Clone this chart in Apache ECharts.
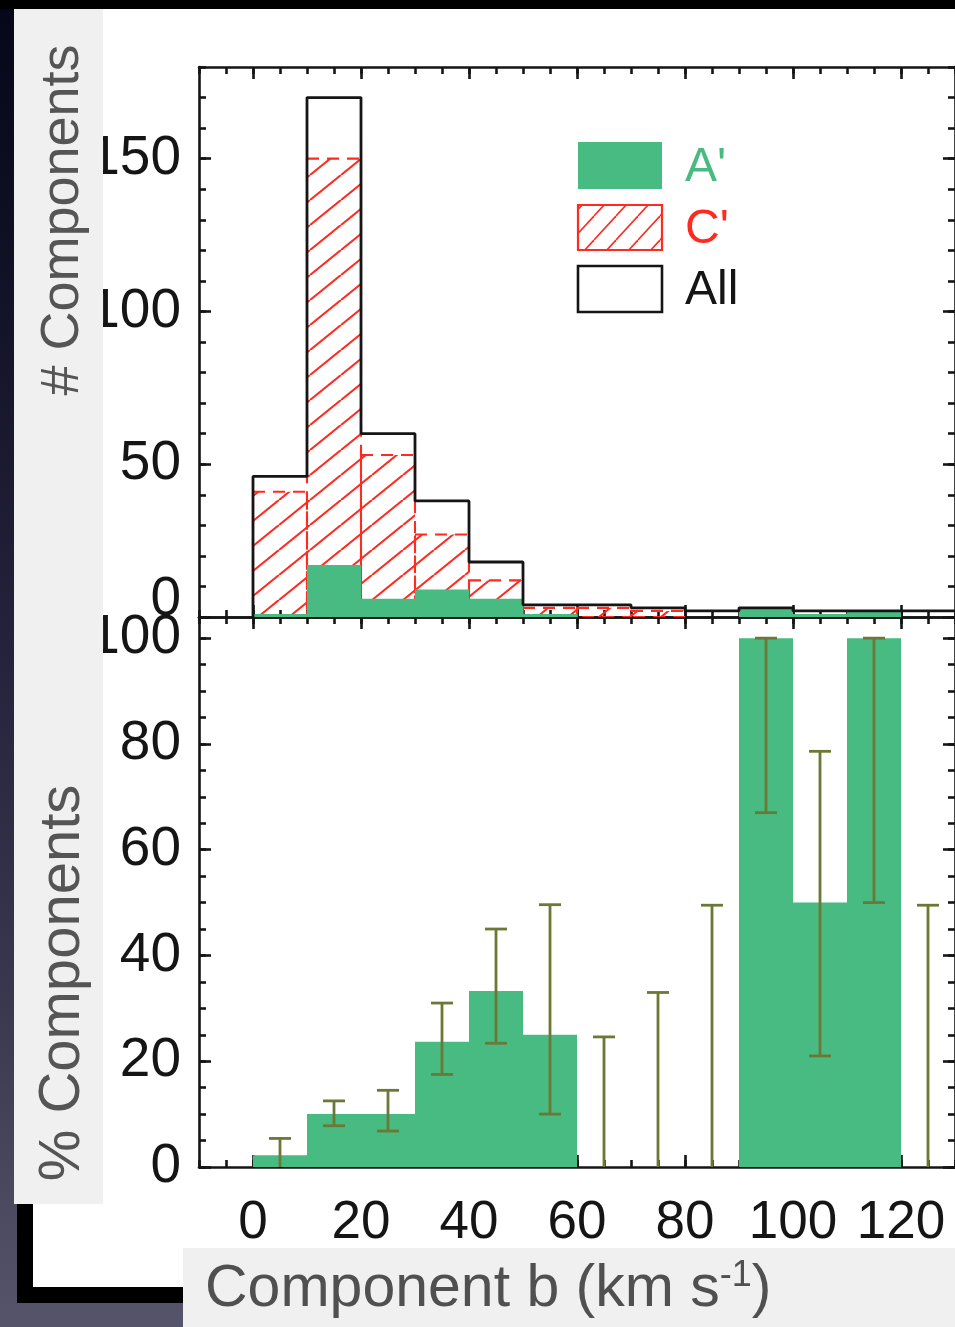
<!DOCTYPE html>
<html><head><meta charset="utf-8">
<script src="https://cdn.jsdelivr.net/npm/echarts@6/dist/echarts.min.js"></script>
<style>
html,body{margin:0;padding:0;width:955px;height:1327px;overflow:hidden;}
body{position:relative;background:linear-gradient(to bottom,#000 0px,#000 9px,#07071a 10px,#121228 300px,#24233b 650px,#39384f 1000px,#55546a 1327px);}
#paper{position:absolute;left:33px;top:9px;width:922px;height:1278px;background:#fff;}
#frameV{position:absolute;left:17px;top:9px;width:16px;height:1294px;background:#000;}
#frameH{position:absolute;left:17px;top:1287px;width:938px;height:16px;background:#000;}
#chart{position:absolute;left:0;top:0;width:955px;height:1327px;}
</style></head><body>
<div id="paper"></div><div id="frameV"></div><div id="frameH"></div>
<div id="chart"></div>
<script>
// ---- data (bins of 10 km/s) ----
const binStarts = [0, 10, 20, 30, 40, 50, 60, 70, 80, 90, 100, 110, 120];
const BIN = 10;
const countAll = [46, 170, 60, 38, 18, 4, 4, 3, 2, 3, 2, 2, 2];
const countC   = [41, 150, 53, 27, 12, 3, 3, 2, 0, 0, 0, 0, 0];
const countA   = [1, 17, 6, 9, 6, 1, 0, 0, 0, 3, 1, 2, 0];
const pctA     = [2.2, 10, 10, 23.7, 33.3, 25, 0, 0, 0, 100, 50, 100, 0];
const errLo    = [0, 7.8, 6.8, 17.5, 23.4, 10, 0, 0, 0, 67, 21, 50, 0];
const errHi    = [5.4, 12.5, 14.5, 31, 45, 49.6, 24.6, 33, 49.5, 100, 78.6, 100, 49.5];
const xTicks = [0, 20, 40, 60, 80, 100, 120];
const yTicksCount = [0, 50, 100, 150];
const yTicksPct = [0, 20, 40, 60, 80, 100];
const legendNames = ["A'", "C'", "All"];

// ---- styles ----
const GREEN = '#47bb82', RED = '#ff2a20', INK = '#151515', ERR = '#6c7936';
const FONT = 'Liberation Sans, Arial, Helvetica, sans-serif';

function makeHatch(w, h, lw) {
  const c = document.createElement('canvas');
  c.width = w; c.height = h;
  const g = c.getContext('2d');
  g.strokeStyle = RED; g.lineWidth = lw;
  for (const k of [-1, 0, 1]) {
    g.beginPath(); g.moveTo(k * w, h); g.lineTo((k + 1) * w, 0); g.stroke();
  }
  return c;
}
const hatch = { image: makeHatch(31, 25, 2.1), repeat: 'repeat' };
const hatchLegend = { image: makeHatch(22, 24, 1.6), repeat: 'repeat' };

const hist = vals => binStarts.map((s, i) => [s, s + BIN, vals[i]]);
function barRender(styleFn) {
  return function (params, api) {
    const v = api.value(2);
    if (!(v > 0)) return null;
    const a = api.coord([api.value(0), v]);
    const b = api.coord([api.value(1), 0]);
    return { type: 'rect', shape: { x: a[0], y: a[1], width: b[0] - a[0], height: b[1] - a[1] }, style: styleFn() };
  };
}
function errRender(params, api) {
  const x = api.value(0), lo = api.value(1), hi = api.value(2);
  const pt = api.coord([x, hi]), pb = api.coord([x, lo]);
  const cap = 11;
  const st = { stroke: ERR, lineWidth: 2.8 };
  const ch = [
    { type: 'line', shape: { x1: pt[0], y1: pt[1], x2: pb[0], y2: pb[1] }, style: st },
    { type: 'line', shape: { x1: pt[0] - cap, y1: pt[1], x2: pt[0] + cap, y2: pt[1] }, style: st }
  ];
  if (lo > 0) ch.push({ type: 'line', shape: { x1: pb[0] - cap, y1: pb[1], x2: pb[0] + cap, y2: pb[1] }, style: st });
  return { type: 'group', children: ch };
}
const outlinePts = [[binStarts[0], 0]]
  .concat(binStarts.map((s, i) => [s, countAll[i]]))
  .concat([[binStarts[binStarts.length - 1] + BIN, countAll[countAll.length - 1]]]);

// ---- axes ----
const lineSt = { color: INK, width: 2.6 };
const labelFont = { fontFamily: FONT, fontSize: 53, color: INK };
const yLabelFont = { fontFamily: FONT, fontSize: 55, color: INK };
function xAx(grid, pos, major, labels) {
  const a = { type: 'value', gridIndex: grid, position: pos, min: -10, max: 130,
    splitLine: { show: false }, axisLabel: { show: false } };
  if (major) {
    a.axisLine = { show: true, onZero: false, lineStyle: lineSt };
    a.axisTick = { show: true, inside: true, length: 12, customValues: xTicks, lineStyle: lineSt };
    if (labels) a.axisLabel = Object.assign({ show: true, customValues: xTicks, margin: 30 }, labelFont);
  } else {
    a.interval = 5;
    a.axisLine = { show: false, onZero: false };
    a.axisTick = { show: true, inside: true, length: 7, lineStyle: lineSt };
  }
  return a;
}
function yAx(grid, pos, major, max, ticks, minorStep, labels) {
  const a = { type: 'value', gridIndex: grid, position: pos, min: 0, max: max,
    splitLine: { show: false }, axisLabel: { show: false } };
  if (major) {
    a.axisLine = { show: true, onZero: false, lineStyle: lineSt };
    a.axisTick = { show: true, inside: true, length: 12, customValues: ticks, lineStyle: lineSt };
    if (labels) a.axisLabel = labels;
  } else {
    a.interval = minorStep;
    a.axisLine = { show: false, onZero: false };
    a.axisTick = { show: true, inside: true, length: 7, lineStyle: lineSt };
  }
  return a;
}
const countLabels = Object.assign({ show: true, customValues: yTicksCount, margin: 18,
  formatter: v => (v === 0 ? '{lo|0}' : String(v)),
  rich: { lo: Object.assign({ padding: [0, 0, 34, 0] }, yLabelFont) } }, yLabelFont);
const pctLabels = Object.assign({ show: true, customValues: yTicksPct, margin: 18 }, yLabelFont);

const chart = echarts.init(document.getElementById('chart'), null, { renderer: 'canvas' });
const option = {
  backgroundColor: 'transparent',
  animation: false,
  grid: [
    { left: 199, top: 67, width: 760, height: 550 },
    { left: 199, top: 617, width: 760, height: 550 }
  ],
  xAxis: [
    xAx(0, 'bottom', true, false), xAx(0, 'bottom', false),
    xAx(0, 'top', true, false), xAx(0, 'top', false),
    xAx(1, 'bottom', true, true), xAx(1, 'bottom', false),
    xAx(1, 'top', true, false), xAx(1, 'top', false)
  ],
  yAxis: [
    yAx(0, 'left', true, 180, yTicksCount, 10, countLabels), yAx(0, 'left', false, 180, null, 10),
    yAx(0, 'right', true, 180, yTicksCount, 10, null), yAx(0, 'right', false, 180, null, 10),
    yAx(1, 'left', true, 104, yTicksPct, 5, pctLabels), yAx(1, 'left', false, 104, null, 5),
    yAx(1, 'right', true, 104, yTicksPct, 5, null), yAx(1, 'right', false, 104, null, 5)
  ],
  series: [
    { name: "C'", type: 'custom', xAxisIndex: 0, yAxisIndex: 0, clip: true,
      encode: { x: [0, 1], y: 2 }, data: hist(countC),
      renderItem: barRender(() => ({ fill: hatch, stroke: RED, lineWidth: 2.1, lineDash: [12, 8] })) },
    { name: "A'", type: 'custom', xAxisIndex: 0, yAxisIndex: 0, clip: true,
      encode: { x: [0, 1], y: 2 }, data: hist(countA),
      renderItem: barRender(() => ({ fill: GREEN })) },
    { name: 'All', type: 'line', xAxisIndex: 0, yAxisIndex: 0, step: 'end', symbol: 'none',
      data: outlinePts, lineStyle: { color: INK, width: 2.8 }, z: 5 },
    { name: "A' %", type: 'custom', xAxisIndex: 4, yAxisIndex: 4, clip: true,
      encode: { x: [0, 1], y: 2 }, data: hist(pctA),
      renderItem: barRender(() => ({ fill: GREEN })) },
    { name: 'err', type: 'custom', xAxisIndex: 4, yAxisIndex: 4, clip: false, z: 6,
      encode: { x: 0, y: [1, 2] },
      data: binStarts.map((s, i) => [s + BIN / 2, errLo[i], errHi[i]]),
      renderItem: errRender }
  ],
  graphic: [
    // legend
    { type: 'rect', shape: { x: 578, y: 142, width: 84, height: 47 }, style: { fill: GREEN }, z: 20 },
    { type: 'rect', shape: { x: 578, y: 205, width: 84, height: 45 }, style: { fill: hatchLegend, stroke: RED, lineWidth: 2.2 }, z: 20 },
    { type: 'rect', shape: { x: 578, y: 266, width: 84, height: 46 }, style: { fill: '#fff', stroke: INK, lineWidth: 2.6 }, z: 20 },
    { type: 'text', x: 685, y: 168, style: { text: legendNames[0], fontFamily: FONT, fontSize: 48, fill: GREEN, align: 'left', verticalAlign: 'middle', textAlign: 'left', textVerticalAlign: 'middle' }, z: 20 },
    { type: 'text', x: 685, y: 230, style: { text: legendNames[1], fontFamily: FONT, fontSize: 48, fill: RED, align: 'left', verticalAlign: 'middle', textAlign: 'left', textVerticalAlign: 'middle' }, z: 20 },
    { type: 'text', x: 685, y: 291, style: { text: legendNames[2], fontFamily: FONT, fontSize: 48, fill: INK, align: 'left', verticalAlign: 'middle', textAlign: 'left', textVerticalAlign: 'middle' }, z: 20 },
    // slide label boxes
    { type: 'rect', shape: { x: 14, y: 9, width: 89, height: 1195 }, style: { fill: '#f0f0f0' }, z: 100 },
    { type: 'text', x: 63, y: 220, rotation: Math.PI / 2, style: { text: '# Components', fontFamily: FONT, fontSize: 54, fill: '#555555', align: 'center', verticalAlign: 'middle', textAlign: 'center', textVerticalAlign: 'middle' }, z: 101 },
    { type: 'text', x: 63, y: 983, rotation: Math.PI / 2, style: { text: '% Components', fontFamily: FONT, fontSize: 58, fill: '#555555', align: 'center', verticalAlign: 'middle', textAlign: 'center', textVerticalAlign: 'middle' }, z: 101 },
    { type: 'rect', shape: { x: 183, y: 1248, width: 772, height: 79 }, style: { fill: '#f0f0f0' }, z: 100 },
    { type: 'text', x: 205, y: 1290, style: { text: '{a|Component b (km s}{b|-1}{a|)}', align: 'left', verticalAlign: 'middle', textAlign: 'left', textVerticalAlign: 'middle',
        rich: { a: { fontFamily: FONT, fontSize: 59, lineHeight: 66, fill: '#505050' },
                b: { fontFamily: FONT, fontSize: 36, lineHeight: 36, fill: '#505050', padding: [0, 0, 28, 0] } } }, z: 101 }
  ]
};
chart.setOption(option);
</script></body></html>
